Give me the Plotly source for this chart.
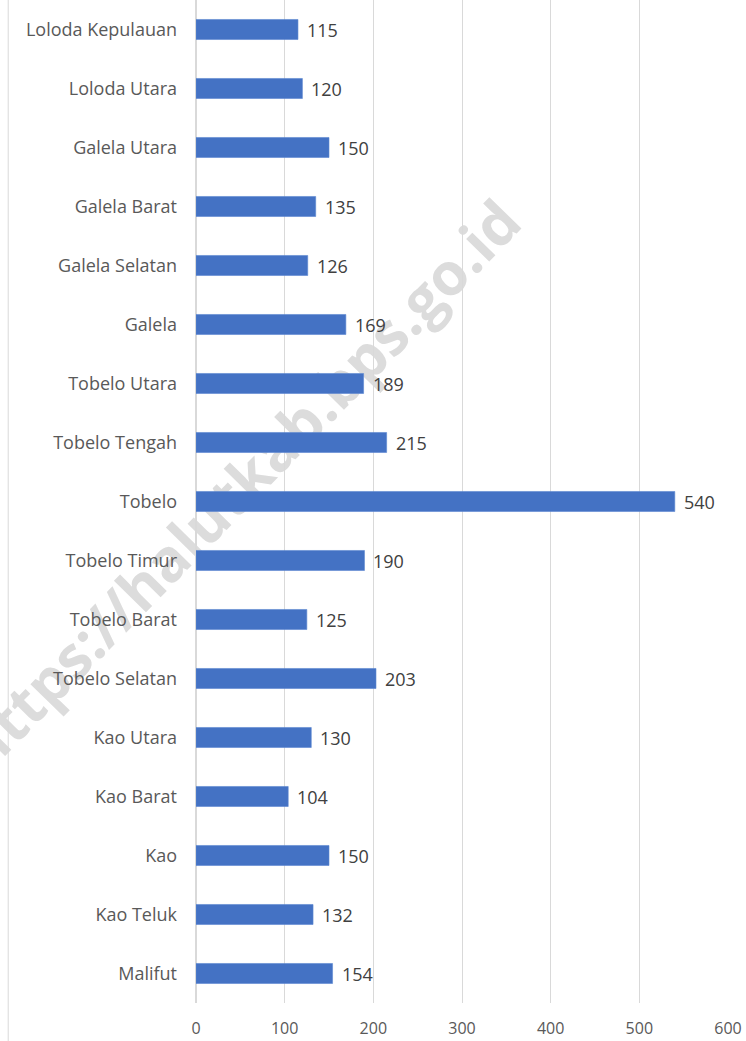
import plotly.graph_objects as go

categories = ["Loloda Kepulauan", "Loloda Utara", "Galela Utara", "Galela Barat", "Galela Selatan",
              "Galela", "Tobelo Utara", "Tobelo Tengah", "Tobelo", "Tobelo Timur", "Tobelo Barat",
              "Tobelo Selatan", "Kao Utara", "Kao Barat", "Kao", "Kao Teluk", "Malifut"]
values = [115, 120, 150, 135, 126, 169, 189, 215, 540, 190, 125, 203, 130, 104, 150, 132, 154]
x_ticks = [0, 100, 200, 300, 400, 500, 600]

FONT = "Open Sans"
fig = go.Figure()
fig.add_trace(go.Bar(
    x=values, y=categories, orientation="h",
    marker=dict(color="#4472C4", line=dict(color="#5B86D0", width=0.6)),
    width=0.34,
))

for c, v in zip(categories, values):
    fig.add_annotation(x=v, y=c, text=str(v), showarrow=False, xanchor="left", xshift=7,
                       font=dict(family=FONT, size=18, color="#404040"))

# watermark behind bars (shape label)
fig.add_shape(type="line", xref="paper", yref="paper", layer="below",
              x0=-0.39, y0=0.195, x1=0.68, y1=0.775,
              line=dict(color="rgba(0,0,0,0)", width=0),
              label=dict(text="<b>https://halutkab.bps.go.id</b>", textposition="middle",
                         font=dict(family=FONT, size=59, color="#dcdcdc")))

# left border line
fig.add_shape(type="line", xref="paper", yref="paper", x0=-0.353, x1=-0.353, y0=-0.05, y1=1.0,
              line=dict(color="#d9d9d9", width=1))

fig.update_layout(
    width=746, height=1041,
    margin=dict(l=196, r=18, t=0, b=38),
    plot_bgcolor="white", paper_bgcolor="white",
    showlegend=False,
    xaxis=dict(range=[0, 600], tickvals=x_ticks, showgrid=True, gridcolor="#d9d9d9", gridwidth=1,
               zeroline=True, zerolinecolor="#d9d9d9", showline=False,
               tickfont=dict(family=FONT, size=16, color="#595959"), ticks="", ticklabelstandoff=14),
    yaxis=dict(categoryorder="array", categoryarray=categories, autorange="reversed",
               showgrid=False, zeroline=False, showline=False, ticks="",
               tickfont=dict(family=FONT, size=18, color="#595959"), ticklabelstandoff=18),
)

fig.write_html("out.html", config={"displayModeBar": False},
               post_script="document.body.style.margin='0';document.body.style.overflow='hidden';")
